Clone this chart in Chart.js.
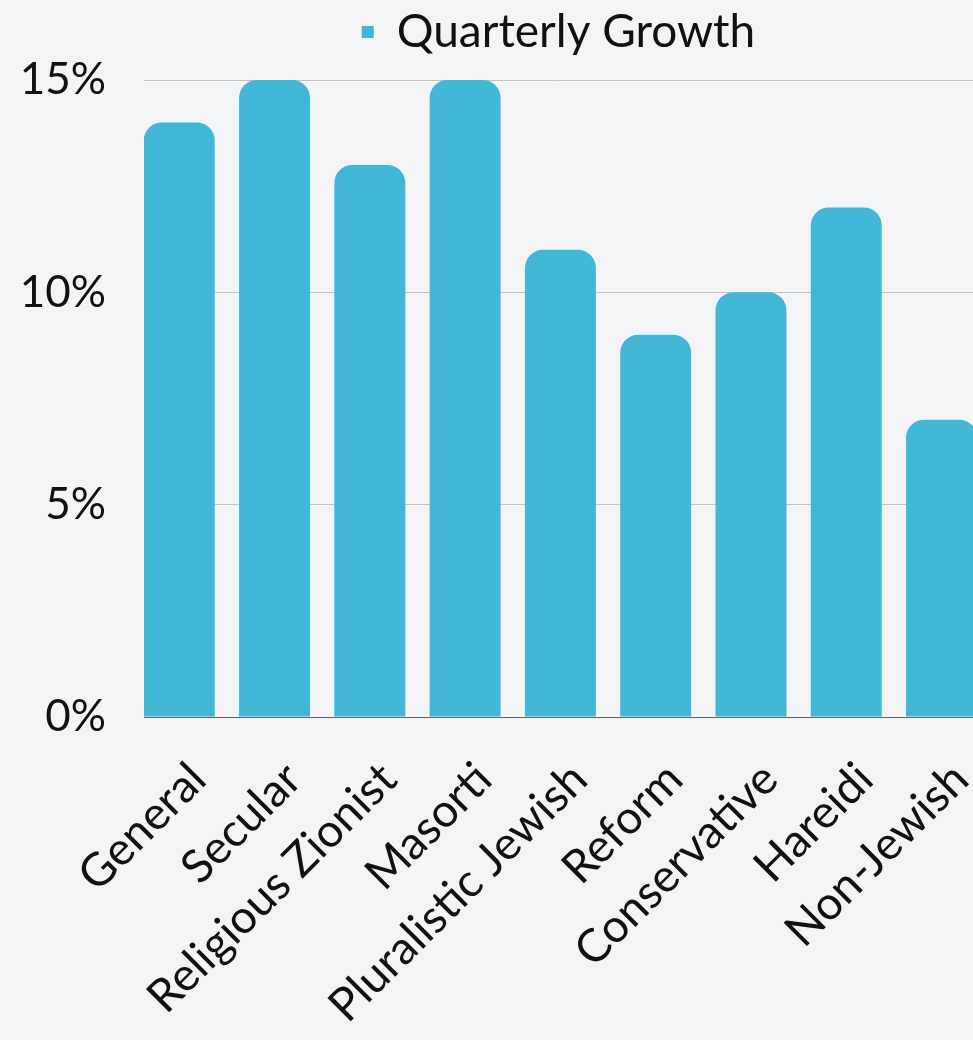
<!DOCTYPE html>
<html>
<head>
<meta charset="utf-8">
<script src="https://cdn.jsdelivr.net/npm/chart.js@4.4.1/dist/chart.umd.min.js"></script>
<style>
  html, body { margin: 0; padding: 0; background: #f3f4f6; overflow: hidden; }
  #wrap { width: 973px; height: 1040px; position: relative; }
</style>
</head>
<body>
<div id="wrap"><canvas id="c"></canvas></div>
<script>
const categories = ["General", "Secular", "Religious Zionist", "Masorti", "Pluralistic Jewish", "Reform", "Conservative", "Hareidi", "Non-Jewish"];
const growthValues = [14, 15, 13, 15, 11, 9, 10, 12, 7];
const yTicks = [0, 5, 10, 15];
const seriesName = "Quarterly Growth";

const FONT = "Lato, 'Open Sans', sans-serif";

new Chart(document.getElementById('c'), {
  type: 'bar',
  data: {
    datasets: [{
      label: seriesName,
      data: growthValues.map((v, i) => ({ x: i, y: v })),
      backgroundColor: '#42b7d6',
      borderRadius: 18,
      borderSkipped: 'start',
      barPercentage: 0.745,
      categoryPercentage: 1
    }]
  },
  options: {
    responsive: true,
    maintainAspectRatio: false,
    animation: false,
    layout: { padding: { top: 0, left: 0, right: 0, bottom: 0 } },
    plugins: {
      legend: {
        display: true,
        position: 'top',
        fullSize: false,
        labels: {
          color: '#111',
          font: { family: FONT, size: 46 },
          boxWidth: 12,
          boxHeight: 12,
          padding: 9
        }
      },
      title: {
        display: true,
        text: '',
        position: 'top',
        weight: 500,
        fullSize: false,
        font: { size: 15, lineHeight: 1 },
        padding: 0
      },
      tooltip: { enabled: false }
    },
    scales: {
      x: {
        type: 'linear',
        offset: false,
        min: -0.37,
        max: 8.33,
        grid: { display: false, drawTicks: false, offset: false },
        border: { display: true, color: '#5f6368', width: 1 },
        ticks: {
          stepSize: 1,
          includeBounds: false,
          autoSkip: false,
          minRotation: 45,
          maxRotation: 45,
          padding: 35,
          labelOffset: 19,
          color: '#111',
          font: { family: FONT, size: 46 },
          callback: (v) => categories[v] ?? ''
        },
        afterBuildTicks: (scale) => {
          scale.ticks = scale.ticks.filter(t => Number.isInteger(t.value) && t.value >= 0 && t.value < categories.length);
        },
        afterFit: (scale) => {
          scale.height = 323;
          scale.paddingLeft = 0;
          scale.paddingRight = 0;
        }
      },
      y: {
        min: 0,
        max: 15,
        grid: { color: '#c2c2c2', lineWidth: 1, drawTicks: false },
        border: { display: false },
        ticks: {
          stepSize: 5,
          padding: 38,
          color: '#111',
          font: { family: FONT, size: 44 },
          callback: (v) => yTicks.includes(v) ? v + '%' : ''
        },
        afterFit: (scale) => {
          scale.width = 144;
        }
      }
    }
  }
});
</script>
</body>
</html>
